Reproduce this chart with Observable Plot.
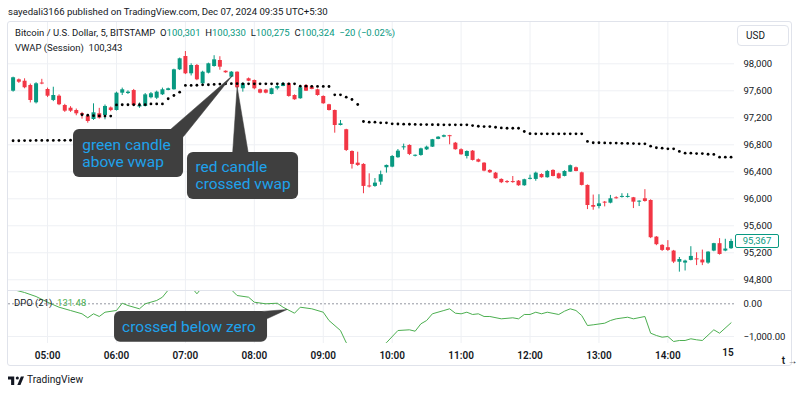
<!DOCTYPE html>
<html><head><meta charset="utf-8">
<script src="https://cdn.jsdelivr.net/npm/d3@7"></script>
<script src="https://cdn.jsdelivr.net/npm/@observablehq/plot@0.6"></script>
<style>
body{margin:0;background:#fff;}
#wrap{position:relative;width:800px;height:394px;overflow:hidden;font-family:Roboto,"Open Sans",sans-serif;color:#131722;}
.abs{position:absolute;white-space:nowrap;}
.g{color:#089981;}
#frame{position:absolute;left:7px;top:21px;width:783px;height:343px;border:1px solid #e0e3eb;border-radius:3px;}
#sep{position:absolute;left:8px;top:290px;width:783px;height:1px;background:#e0e3eb;}
#usd{position:absolute;left:737px;top:25px;width:50px;height:19px;border:1px solid #e0e3eb;border-radius:4px;font-size:10px;line-height:19px;text-indent:8px;}
#last{position:absolute;left:735px;width:42px;height:12px;border:1px solid #089981;border-radius:2px;background:#fff;color:#089981;font-size:9.5px;line-height:12px;text-align:center;}
</style></head><body>
<div id="wrap">
  <div class="abs" style="left:8px;top:6px;font-size:9.6px;">sayedali3166 published on TradingView.com, Dec 07, 2024 09:35 UTC+5:30</div>
  <div id="frame"></div>
  <div id="price" class="abs" style="left:0;top:22px;"></div>
  <div id="dpo" class="abs" style="left:0;top:290px;"></div>
  <div id="sep"></div>
  <div class="abs" style="left:15px;top:27px;font-size:9.5px;">Bitcoin / U.S. Dollar, 5, BITSTAMP&nbsp; O<span class="g">100,301</span>&nbsp; H<span class="g">100,330</span>&nbsp; L<span class="g">100,275</span>&nbsp; C<span class="g">100,324</span>&nbsp; <span class="g">−20 (−0.02%)</span></div>
  <div class="abs" style="left:15px;top:42px;font-size:9.5px;">VWAP (Session)&nbsp; 100,343</div>
  <div class="abs" style="left:14px;top:297px;font-size:9.5px;">DPO (21)&nbsp; <span style="color:#4caf50">131.48</span></div>
  <div id="usd">USD</div>
  <div id="last"></div>
  <svg class="abs" style="left:8px;top:375px;" width="16" height="11" viewBox="0 0 36 24"><path d="M14 22H7V10H0V3h14z" fill="#131722"/><circle cx="21" cy="6.5" r="3.5" fill="#131722"/><path d="M29 3h7l-8 19h-7z" fill="#131722"/></svg>
  <div class="abs" style="left:27px;top:374px;font-size:10.2px;">TradingView</div>
</div>
<script>
// ---------- data ----------
const startTime = "2024-12-07T04:30:00Z"; // first 5-minute bar
const barMinutes = 5;
const open = [97594,97763,97742,97679,97422,97710,97619,97457,97520,97382,97342,97308,97262,97220,97175,97260,97234,97346,97308,97565,97560,97604,97360,97368,97497,97490,97541,97605,97615,97911,98108,97852,97975,97704,97861,97960,98049,97890,97802,97876,97630,97778,97753,97615,97610,97545,97630,97664,97704,97530,97482,97679,97655,97615,97516,97393,97308,97086,97023,96701,96528,96509,96190,96183,96247,96460,96469,96608,96755,96790,96630,96642,96725,96765,96880,96913,96935,96824,96727,96627,96706,96578,96528,96420,96380,96287,96250,96250,96262,96193,96288,96287,96360,96312,96420,96370,96331,96395,96460,96385,96198,95900,95885,95945,95935,96015,96020,96020,96015,95950,96000,95975,95432,95310,95275,95225,95060,95047,95087,95105,95092,95047,95225,95335,95225,95260];
const high = [97802,97775,97778,97700,97720,97770,97640,97653,97540,97400,97365,97330,97280,97245,97407,97340,97390,97360,97580,97640,97600,97620,97420,97560,97575,97595,97640,97640,97920,98085,98182,98000,97990,97890,98010,98120,98105,97895,97885,97880,97715,97790,97760,97625,97620,97640,97700,97720,97712,97540,97650,97690,97670,97625,97525,97400,97315,97160,97030,96710,96690,96520,96370,96300,96410,96500,96640,96730,96810,96800,96650,96750,96780,96880,96920,96945,96940,96835,96740,96710,96715,96590,96535,96430,96390,96295,96270,96330,96270,96290,96350,96395,96370,96420,96430,96380,96415,96500,96470,96395,96205,96055,96060,95960,96050,96030,96075,96075,96020,95970,96135,95985,95440,95320,95380,95235,95130,95090,95290,95200,95240,95215,95340,95410,95400,95400];
const low = [97580,97710,97630,97420,97405,97690,97500,97440,97380,97280,97280,97230,97180,97120,97160,97180,97170,97290,97300,97530,97545,97370,97340,97360,97480,97470,97530,97600,97610,97900,97840,97820,97750,97690,97850,97950,97905,97860,97795,97630,97580,97735,97615,97555,97555,97540,97610,97660,97505,97460,97475,97590,97615,97520,97400,97300,96972,97080,96700,96440,96480,96075,96160,96170,96200,96380,96460,96600,96720,96640,96620,96630,96715,96760,96875,96905,96800,96720,96645,96590,96560,96535,96400,96375,96290,96225,96225,96230,96185,96185,96280,96260,96305,96305,96325,96290,96325,96390,96400,96190,95840,95830,95850,95880,95925,95995,96010,96010,95855,95885,95950,95410,95305,95220,95220,95040,94913,94930,95080,95010,95010,95030,95215,95165,95215,95250];
const close = [97793,97727,97645,97456,97704,97700,97520,97530,97393,97298,97298,97259,97240,97145,97274,97195,97368,97308,97565,97615,97580,97382,97380,97540,97556,97580,97615,97630,97911,98074,97852,97975,97763,97876,98000,98059,97950,97867,97876,97645,97704,97742,97630,97565,97565,97630,97664,97704,97516,97467,97645,97594,97620,97530,97408,97308,97086,97110,96716,96509,96494,96183,96175,96232,96357,96494,96627,96706,96765,96657,96640,96740,96765,96875,96913,96935,96920,96727,96652,96701,96568,96543,96410,96385,96297,96238,96240,96240,96193,96282,96292,96380,96312,96405,96331,96297,96405,96490,96405,96198,95900,95875,95925,95935,96000,96000,96025,96030,95950,95965,95960,95423,95320,95235,95235,95062,95100,95077,95146,95095,95050,95210,95335,95175,95255,95367];
const vwap = [96860,96860,96862,96862,96864,96864,96865,96865,96866,96866,96867,96868,
  97245,97238,97232,97228,97226,97226,
  97390,97393,97393,97393,97393,97395,97405,97405,97405,
  97482,97530,97580,
  97680,97680,97682,97688,97690,97695,97700,97703,97705,97705,
  97704,97704,97704,97704,97704,97704,97704,97704,97704,97704,
  97668,97668,97666,97665,97665,97664,
  97541,97541,97506,97471,97397,
  97145,97135,97135,97126,97126,97111,
  97108,97106,97104,97102,97100,97100,97098,97097,97096,97096,97096,97096,97096,
  97085,97075,97070,97070,97060,97050,97045,97045,97045,
  96997,
  96965,96963,96963,96963,96962,96962,96962,96962,96962,96962,
  96850,
  96830,96830,96828,96826,96825,96822,96820,96818,96815,96815,
  96780,96756,96750,96740,96740,96701,
  96676,96676,96670,96670,96660,96657,
  96617,96617,96617];
const dpoBar = [0,2,4,6,8,10,12,13,14,15,16,18,19,20,22,23,25,26,27,29,31,32,33,35,38,39,41,42,44,46,47,49,50,52,54,55,57,58,59,62,63,65,67,69,70,71,72,73,75,76,77,78,79,80,81,82,83,85,87,88,89,90,91,92,93,95,96,97,98,99,100,101,103,104,105,107,108,110,111,112,113,114,115,116,117,118,119,120,122,123,125];
const dpoValue = [437,345,223,49,-104,-205,-306,-428,-306,-388,-257,-205,18,-52,-153,0,101,202,420,600,520,306,520,700,430,254,202,49,0,18,-104,-287,-104,-153,-257,-511,-817,-1190,-1350,-1600,-1450,-1190,-817,-795,-838,-612,-511,-306,-205,-153,-287,-306,-257,-327,-306,-388,-388,-459,-428,-459,-327,-327,-257,-306,-257,-327,-226,-153,-205,-358,-664,-642,-593,-511,-459,-410,-459,-388,-899,-969,-1021,-1000,-1153,-1122,-1122,-1070,-1101,-1122,-795,-899,-581];
const hourTicks = ["05:00","06:00","07:00","08:00","09:00","10:00","11:00","12:00","13:00","14:00"];
const lastTimeLabel = "15";
const priceTicks = [98000,97600,97200,96800,96400,96000,95600,95200,94800];
const dpoTicks = [0,-1000];
const notes = [
  {label:"green candle\nabove vwap", from:"05:22:36", to:"06:58:24", lo:96316, hi:97027, tx:"05:30:12", ty:96671,
   wedge:[["06:47:00",97027],["07:41:00",97827],["06:58:24",96923]]},
  {label:"red candle\ncrossed vwap", from:"07:01:48", to:"08:38:30", lo:95990, hi:96686, tx:"07:08:48", ty:96345,
   wedge:[["07:41:00",96650],["07:45:00",97664],["07:55:00",96650]]}
];
const dpoNote = {label:"crossed below zero", from:"05:58:18", to:"08:11:30", lo:-1174, hi:-235, tx:"06:04:54", ty:-694,
   wedge:[["08:01:00",-250],["08:28:30",-174],["08:11:30",-450]]};

// ---------- helpers ----------
const t0 = new Date(startTime);
const at = s => new Date("2024-12-07T" + (s.length === 5 ? s + ":00" : s) + "Z");
const bars = open.map((o, i) => ({t: new Date(+t0 + i * barMinutes * 60000), o, h: high[i], l: low[i], c: close[i], v: vwap[i]}));
const green = "#089981", red = "#f23645", grid = "#eef0f4";
const xDomain = [at("04:26"), at("14:58")];
const hours = hourTicks.map(at);
const font = "Roboto, 'Open Sans', sans-serif";
const boxFill = "#3f3f3f", noteText = "#1ea2ec";

function noteMarks(list) {
  const wedges = list.flatMap((n, k) => n.wedge.map(([tt, v]) => ({k, t: at(tt), v})));
  return [
    Plot.line(wedges, {x: "t", y: "v", z: "k", fill: boxFill, stroke: boxFill, strokeWidth: 0.5, curve: "linear-closed"}),
    Plot.rect(list, {x1: d => at(d.from), x2: d => at(d.to), y1: "lo", y2: "hi", fill: boxFill, rx: 6}),
    Plot.text(list, {x: d => at(d.tx), y: "ty", text: "label", fill: noteText, fontSize: 15.5, textAnchor: "start", lineHeight: 1.1, fontFamily: font})
  ];
}

// ---------- price pane ----------
const price = Plot.plot({
  width: 800, height: 268, marginLeft: 8, marginRight: 66, marginTop: 0, marginBottom: 0,
  x: {type: "utc", domain: xDomain, axis: null},
  y: {domain: [94641, 98612], axis: null},
  color: {type: "identity"},
  style: {fontFamily: font, fontSize: "9.5px", color: "#131722", background: "transparent", overflow: "visible"},
  marks: [
    Plot.gridX({ticks: hours, stroke: grid, strokeOpacity: 1}),
    Plot.gridY({ticks: priceTicks, stroke: grid, strokeOpacity: 1}),
    Plot.axisY({anchor: "right", ticks: priceTicks, tickSize: 0, tickPadding: 9, tickFormat: d3.format(","), fontSize: 9.5}),
    Plot.ruleX(bars, {x: "t", y1: "l", y2: "h", stroke: d => d.c >= d.o ? green : red, strokeWidth: 1}),
    Plot.ruleX(bars, {x: "t", y1: d => Math.min(d.o, d.c), y2: d => Math.max(Math.max(d.o, d.c), Math.min(d.o, d.c) + 15), stroke: d => d.c >= d.o ? green : red, strokeWidth: 4}),
    Plot.dot(bars, {x: "t", y: "v", r: 1.4, fill: "#000", stroke: "none"}),
    ...noteMarks(notes)
  ]
});
document.getElementById("price").appendChild(price);
const lastY = price.scale("y").apply(close[close.length - 1]);
const last = document.getElementById("last");
last.style.top = (22 + lastY - 7) + "px";
last.textContent = d3.format(",")(close[close.length - 1]);

// ---------- DPO pane ----------
const dpoData = dpoBar.map((b, i) => ({t: new Date(+t0 + b * barMinutes * 60000), v: dpoValue[i]}));
const dpo = Plot.plot({
  width: 800, height: 76, marginLeft: 8, marginRight: 66, marginTop: 0, marginBottom: 23,
  x: {type: "utc", domain: xDomain, axis: null},
  y: {domain: [-1214, 407], axis: null},
  style: {fontFamily: font, fontSize: "9.5px", color: "#131722", background: "transparent", overflow: "visible"},
  marks: [
    Plot.gridX({ticks: hours, stroke: grid, strokeOpacity: 1}),
    Plot.gridY({ticks: [-1000], stroke: grid, strokeOpacity: 1}),
    Plot.ruleY([0], {stroke: "#9598a1", strokeDasharray: "2,2"}),
    Plot.axisY({anchor: "right", ticks: dpoTicks, tickSize: 0, tickPadding: 9, tickFormat: d3.format(",.2f"), fontSize: 9.5}),
    Plot.axisX({ticks: hours, tickSize: 0, tickPadding: 8, tickFormat: d3.utcFormat("%H:%M"), fontSize: 10, fontWeight: 600}),
    Plot.text([at("15:00")], {x: d => d, frameAnchor: "bottom", dy: 12, text: () => lastTimeLabel, textAnchor: "end", dx: -3, fontSize: 10, fontWeight: 600}),
    Plot.line(dpoData, {x: "t", y: "v", stroke: "#4caf50", strokeWidth: 1, clip: true}),
    ...noteMarks([dpoNote])
  ]
});
document.getElementById("dpo").appendChild(dpo);
</script>
</body></html>
